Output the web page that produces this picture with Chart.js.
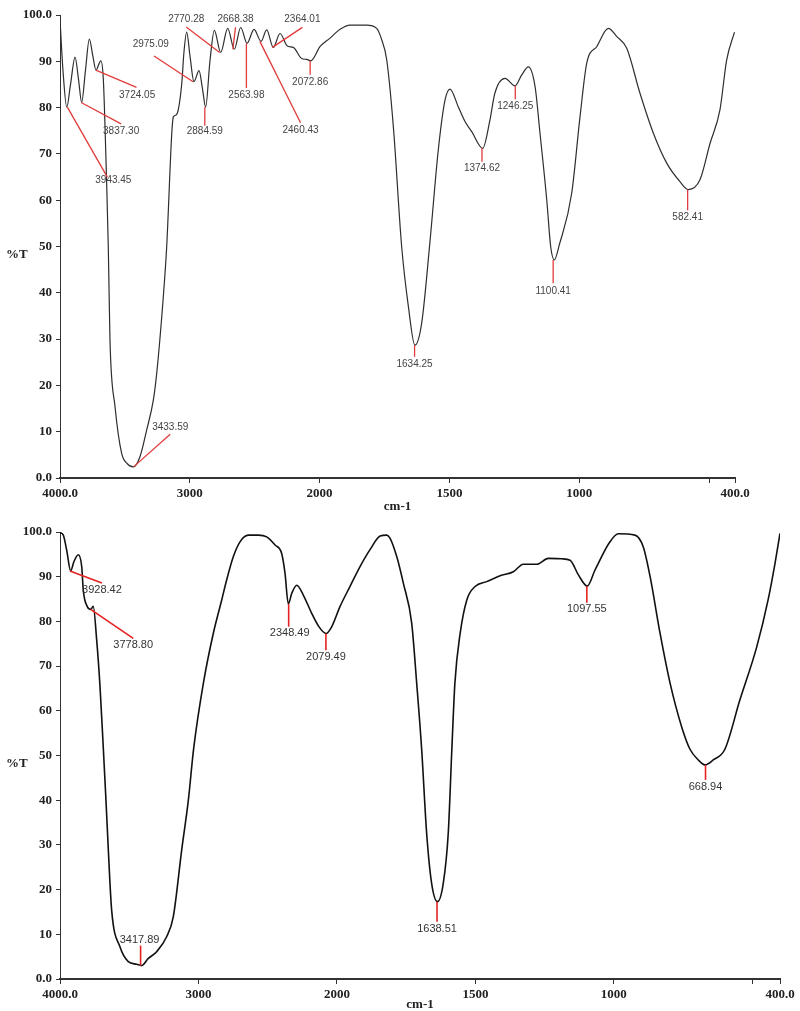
<!DOCTYPE html>
<html>
<head>
<meta charset="utf-8">
<script src="https://cdn.jsdelivr.net/npm/chart.js@4.4.0/dist/chart.umd.min.js"></script>
<style>
body { margin: 0; background: #fff; width: 800px; height: 1011px; overflow: hidden; position: relative; }
.wrap { position: absolute; left: 0; width: 800px; }
</style>
</head>
<body>
<div class="wrap" style="top:0;height:520px"><canvas id="ftirTop"></canvas></div>
<div class="wrap" style="top:510px;height:501px"><canvas id="ftirBottom"></canvas></div>
<script>
// --- spectra (wavenumber cm-1, %T) -------------------------------------

var topWave = [4000,3977,3948,3919,3884,3857,3833,3804,3774,3746,3723,3686,3666,3640,3628,3615,3576,3525,3486,3435,
    3384,3332,3281,3255,3204,3178,3139,3127,3106,3089,3062,3045,3024,2998,2968,2929,2902,2878,2845,2811,
    2762,2708,2657,2608,2559,2505,2451,2408,2357,2305,2249,2203,2138,2099,2068,1998,1960,1921,1883,1819,
    1780,1763,1742,1716,1684,1658,1633,1607,1575,1543,1517,1498,1466,1440,1414,1372,1344,1325,1286,1247,
    1222,1196,1170,1151,1125,1110,1096,1076,1029,997,971,932,888,856,817,766,714,663,612,580,
    535,496,458,432,402];
var topT = [99,88,80.1,85,90.9,86,81.1,88,94.8,91,88.1,90.1,86,62.9,50,29.8,15.4,5.3,3.2,2.4,
    4.6,10.4,16.8,22.6,39.2,50,74.4,78,78.4,79.5,85.2,92,96.3,91,85.6,88.0,84,80.1,90,96.7,
    91.9,97.1,92.6,97.3,93.9,96.9,94.3,96.8,93.0,96.0,93.3,93.0,90.6,90.4,90.1,93.2,95.0,96.9,97.8,97.8,
    97.1,95,90.5,75.9,50,37,28.7,33.4,51,70.8,81.6,84.0,80.2,77,74.8,71.2,77.3,83.1,86.3,84.7,
    87.0,88.8,84.5,74.4,60,50,47.1,50.5,61.5,78,89.6,93.2,97.1,95.4,92.8,83.1,74.4,68,64.0,62.3,
    64.4,72.3,79.5,90.3,96.3];

var botWave = [4000,3976,3952,3923,3899,3868,3843,3832,3803,3778,3760,3735,3711,3687,3668,3651,3627,3567,3507,3446,
    3410,3362,3302,3229,3182,3121,3073,3035,2965,2893,2832,2796,2748,2700,2640,2568,2507,2447,2399,2375,
    2351,2326,2290,2243,2182,2134,2079,2038,1989,1953,1917,1880,1844,1820,1808,1784,1760,1730,1712,1694,
    1676,1658,1637,1616,1598,1585,1574,1555,1531,1501,1459,1411,1363,1327,1278,1237,1188,1158,1128,1096,
    1068,1014,984,924,894,869,833,797,755,725,695,671,641,599,545,484,443,418,400];
var botT = [99.9,99.3,96,91.3,93.4,94.9,92.2,87,83.3,82.7,83.4,75.8,65.4,51.5,40,28.9,15.4,7.2,3.9,3.3,
    3.0,4.6,6.1,9.5,13.9,28.9,40,51.5,66.1,77.3,84.8,89.3,94.5,97.8,99.3,99.3,98.9,97.1,95.2,90.8,
    83.9,86.3,88.1,85.9,81.8,79,77.3,78.8,83.3,87.8,92.2,96.1,99.1,99.3,98.6,94.5,88.5,79.6,66.2,51.4,
    32.6,21.4,17.3,21.4,32.6,51.4,66.2,77.3,84.8,87.8,88.9,90.2,91.1,92.8,92.8,94.1,94.0,93.7,90.4,87.9,
    91.5,97.8,99.6,99.3,96.7,90,77.3,66.2,56.4,51.4,49,47.9,49,51.4,62.4,74.3,84.8,93,99.7];

// picked peaks
var topPeakWave = [3943.45,3837.30,3724.05,3433.59,2975.09,2884.59,2770.28,2668.38,2563.98,2460.43,2364.01,2072.86,
    1634.25,1374.62,1246.25,1100.41,582.41];
var topPeakT = [80.1,81.1,88.1,2.4,85.6,80.1,91.9,92.6,93.9,94.3,93.0,90.1,28.7,71.2,84.7,47.1,62.3];

var botPeakWave = [3928.42,3778.80,3417.89,2348.49,2079.49,1638.51,1097.55,668.94];
var botPeakT = [91.3,82.7,3.0,83.9,77.3,17.3,87.9,47.9];

// axis ticks
var axisWaves = [4000, 3000, 2000, 1500, 1000, 500, 400];
var axisLabels = ["4000.0", "3000", "2000", "1500", "1000", "", "400.0"];
var yTickValues = [0, 10, 20, 30, 40, 50, 60, 70, 80, 90, 100];
var yTickLabels = ["0.0", "10", "20", "30", "40", "50", "60", "70", "80", "90", "100.0"];

// --- layout of the peak leader lines: [lineDx, lineDy, textDx, textDy] (px)
var topLeader = [[40,70,6,3.5],[40,21.3,0,7],[40.7,17.3,0.6,7.7],[36.7,-32.7,0,-6.7],[-39,-25.7,-3.3,-12],
    [0,18.7,0,5],[-33.4,-25.4,0,-8],[2.7,-22,0,-8],[0,44.7,0,7],[40.7,81.3,0,8],[30,-20,0,-8],[0,14,0,7],
    [0,11.7,0,7.6],[0,13.4,0,7],[0,13.3,0,7],[0,23.3,0,7.7],[0,20.7,0,7.3]];
var botLeader = [[32,12,0,7.3],[42.6,29,0,6.7],[0,-20,-1,-6],[0,22.7,1,6],[0,16.7,0,6.7],[0,20,0,7.3],
    [0,16.7,0,6.6],[0,15,0,7.3]];

// instrument scale: 4000-2000 compressed 2x relative to 2000-400
function waveToU(w) {
    return w >= 2000 ? (4000 - w) / 2 : 1000 + (2000 - w);
}

function toPoints(waves, trans) {
    return waves.map(function (w, i) { return {x: waveToU(w), y: trans[i]}; });
}

var tickFont = {family: "'Liberation Serif', 'DejaVu Serif', serif", weight: 'bold', size: 13};

var peakMarks = {
    id: 'peakMarks',
    afterDatasetsDraw: function (chart, args, opts) {
        var ctx = chart.ctx, xs = chart.scales.x, ys = chart.scales.y, area = chart.chartArea;
        ctx.save();
        opts.waves.forEach(function (w, i) {
            var px = xs.getPixelForValue(waveToU(w));
            var py = ys.getPixelForValue(opts.trans[i]);
            var o = opts.leader[i];
            var ex = px + o[0], ey = py + o[1];
            ctx.strokeStyle = opts.lineColor;
            ctx.lineWidth = opts.lineWidth;
            ctx.beginPath();
            ctx.moveTo(px, py);
            ctx.lineTo(ex, ey);
            ctx.stroke();
            ctx.fillStyle = opts.textColor;
            ctx.font = opts.font;
            ctx.textAlign = 'center';
            ctx.textBaseline = 'middle';
            ctx.fillText(w.toFixed(2), ex + o[2], ey + o[3]);
        });
        // axis titles
        ctx.fillStyle = '#222';
        ctx.font = "bold 13px 'Liberation Serif', serif";
        ctx.textBaseline = 'middle';
        ctx.textAlign = 'left';
        ctx.fillText('%T', 6, (area.top + area.bottom) / 2 + 8);
        ctx.textAlign = 'center';
        ctx.fillText('cm-1', (area.left + area.right) / 2, area.bottom + opts.titleGap);
        ctx.restore();
    }
};

function buildSpectrum(canvasId, waves, trans, lineColor, lineWidth, pad, marks) {
    return new Chart(document.getElementById(canvasId), {
        type: 'line',
        data: {
            datasets: [{
                data: toPoints(waves, trans),
                borderColor: lineColor,
                borderWidth: lineWidth,
                pointRadius: 0,
                fill: false,
                cubicInterpolationMode: 'monotone'
            }]
        },
        options: {
            responsive: true,
            maintainAspectRatio: false,
            animation: false,
            layout: {padding: pad},
            plugins: {legend: {display: false}, tooltip: {enabled: false}, peakMarks: marks},
            scales: {
                x: {
                    type: 'linear', min: 0, max: 2600,
                    afterBuildTicks: function (s) {
                        s.ticks = axisWaves.map(function (w) { return {value: waveToU(w)}; });
                    },
                    afterFit: function (s) { s.height = 32; },
                    ticks: {
                        autoSkip: false, maxRotation: 0, padding: 3, color: '#222', font: tickFont,
                        callback: function (v, i) { return axisLabels[i]; }
                    },
                    grid: {drawOnChartArea: false, drawTicks: true, tickLength: 5, color: '#333'},
                    border: {display: true, color: '#333', width: 2}
                },
                y: {
                    type: 'linear', min: 0, max: 100,
                    afterBuildTicks: function (s) {
                        s.ticks = yTickValues.map(function (v) { return {value: v}; });
                    },
                    afterFit: function (s) { s.width = 60; },
                    ticks: {
                        padding: 4, color: '#222', font: tickFont,
                        callback: function (v, i) { return yTickLabels[i]; }
                    },
                    grid: {drawOnChartArea: false, drawTicks: true, tickLength: 4, color: '#333'},
                    border: {display: true, color: '#333', width: 1}
                }
            }
        },
        plugins: [peakMarks]
    });
}

buildSpectrum('ftirTop', topWave, topT, '#2e2e2e', 1.2, {left: 0, right: 65, top: 15, bottom: 10}, {
    waves: topPeakWave, trans: topPeakT, leader: topLeader,
    lineColor: '#e23b3b', lineWidth: 1.3, textColor: '#444',
    font: "10px 'Liberation Sans', Arial, sans-serif", titleGap: 29
});

buildSpectrum('ftirBottom', botWave, botT, '#111', 1.6, {left: 0, right: 20, top: 22, bottom: 0}, {
    waves: botPeakWave, trans: botPeakT, leader: botLeader,
    lineColor: '#e52222', lineWidth: 1.6, textColor: '#333',
    font: "11px 'Liberation Sans', Arial, sans-serif", titleGap: 26
});
</script>
</body>
</html>
